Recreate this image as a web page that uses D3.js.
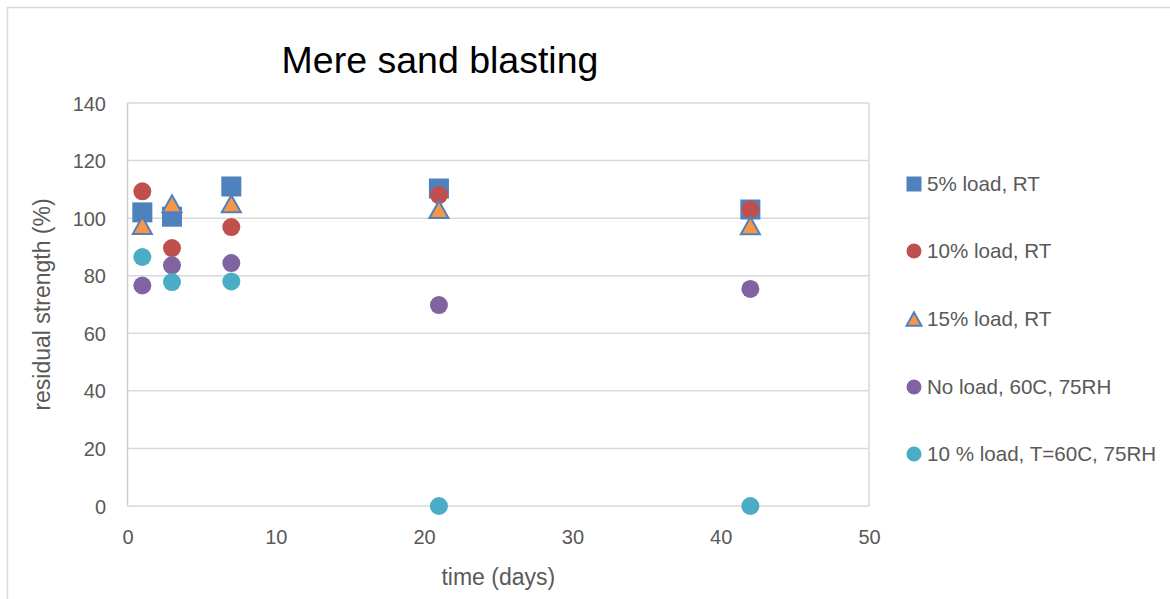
<!DOCTYPE html>
<html>
<head>
<meta charset="utf-8">
<script src="https://cdn.jsdelivr.net/npm/d3@7"></script>
<style>
  html, body { margin: 0; padding: 0; background: #ffffff; }
  svg { display: block; }
  text { font-family: "Liberation Sans", Arial, sans-serif; }
</style>
</head>
<body>
<svg id="chart" width="1170" height="599"></svg>
<script>
// ---- data ----
const days = [1, 3, 7, 21, 42];
const load5RT = [102, 100.5, 111, 110.3, 103];
const load10RT = [109.3, 89.6, 96.9, 108, 103];
const load15RT = [97.5, 105, 105, 103, 97.4];
const noLoad60C = [76.6, 83.6, 84.4, 69.8, 75.4];
const load10T60C = [86.5, 77.8, 78, 0, 0];
const seriesNames = ["5% load, RT", "10% load, RT", "15% load, RT", "No load, 60C, 75RH", "10 % load, T=60C, 75RH"];
const xTicks = [0, 10, 20, 30, 40, 50];
const yTicks = [0, 20, 40, 60, 80, 100, 120, 140];
const chartTitle = "Mere sand blasting";
const xTitle = "time (days)";
const yTitle = "residual strength (%)";

const series = [
  { name: seriesNames[0], values: load5RT, shape: "square", fill: "#4F81BD", stroke: "none" },
  { name: seriesNames[1], values: load10RT, shape: "circle", fill: "#C0504D", stroke: "none" },
  { name: seriesNames[2], values: load15RT, shape: "triangle", fill: "#F79646", stroke: "#4F81BD" },
  { name: seriesNames[3], values: noLoad60C, shape: "circle", fill: "#8064A2", stroke: "none" },
  { name: seriesNames[4], values: load10T60C, shape: "circle", fill: "#4BACC6", stroke: "none" }
];

const svg = d3.select("#chart");

// outer chart border
svg.append("rect").attr("x", 7.5).attr("y", 7.5).attr("width", 1300).attr("height", 800)
  .attr("fill", "none").attr("stroke", "#d9d9d9").attr("stroke-width", 1.5);

const plot = { left: 127.5, right: 869, top: 103, bottom: 506 };
const x = d3.scaleLinear().domain([0, 50]).range([plot.left, plot.right]);
const y = d3.scaleLinear().domain([0, 140]).range([plot.bottom, plot.top]);

// gridlines
svg.append("g").selectAll("line").data(yTicks).join("line")
  .attr("x1", plot.left).attr("x2", plot.right)
  .attr("y1", d => y(d)).attr("y2", d => y(d))
  .attr("stroke", "#d9d9d9").attr("stroke-width", 1.5);
// plot border verticals
svg.append("line").attr("x1", plot.left).attr("x2", plot.left).attr("y1", plot.top).attr("y2", plot.bottom)
  .attr("stroke", "#d0d0d0").attr("stroke-width", 1.5);
svg.append("line").attr("x1", plot.right).attr("x2", plot.right).attr("y1", plot.top).attr("y2", plot.bottom)
  .attr("stroke", "#d9d9d9").attr("stroke-width", 1.5);

// axes
const yAxis = svg.append("g").attr("transform", `translate(${106},0)`)
  .call(d3.axisLeft(y).tickValues(yTicks).tickSize(0).tickPadding(0));
yAxis.select(".domain").remove();
yAxis.selectAll("text").attr("font-size", 20).attr("fill", "#595959")
  .attr("font-family", "Liberation Sans, Arial, sans-serif").attr("dy", "0.35em");

const xAxis = svg.append("g").attr("transform", `translate(0,${526})`)
  .call(d3.axisBottom(x).tickValues(xTicks).tickSize(0).tickPadding(0));
xAxis.select(".domain").remove();
xAxis.selectAll("text").attr("font-size", 20).attr("fill", "#595959")
  .attr("font-family", "Liberation Sans, Arial, sans-serif").attr("dy", "0.9em");

// titles
svg.append("text").attr("x", 440).attr("y", 73).attr("text-anchor", "middle")
  .attr("font-size", 37.5).attr("fill", "#000000").text(chartTitle);
svg.append("text").attr("x", (plot.left + plot.right) / 2).attr("y", 585).attr("text-anchor", "middle")
  .attr("font-size", 23).attr("fill", "#595959").text(xTitle);
svg.append("text").attr("transform", `translate(50,${(plot.top + plot.bottom) / 2}) rotate(-90)`)
  .attr("text-anchor", "middle").attr("font-size", 23).attr("fill", "#595959").text(yTitle);

// marker drawing
function drawMarker(g, shape, size, fill, stroke) {
  if (shape === "square") {
    g.append("rect").attr("x", -size / 2).attr("y", -size / 2).attr("width", size).attr("height", size)
      .attr("fill", fill);
  } else if (shape === "circle") {
    g.append("circle").attr("r", size / 2).attr("fill", fill);
  } else if (shape === "triangle") {
    const w = size, h = size * 0.9;
    g.append("path").attr("d", `M0,${-h / 2}L${w / 2},${h / 2}L${-w / 2},${h / 2}Z`)
      .attr("fill", fill).attr("stroke", stroke).attr("stroke-width", 2).attr("stroke-linejoin", "miter");
  }
}
const markerSize = { square: 20, circle: 18, triangle: 19 };

series.forEach(s => {
  const g = svg.append("g");
  s.values.forEach((v, i) => {
    const m = g.append("g").attr("transform", `translate(${x(days[i])},${y(v)})`);
    drawMarker(m, s.shape, markerSize[s.shape], s.fill, s.stroke);
  });
});

// legend
const legendY = [184, 251, 319, 387, 454];
const legend = svg.append("g");
series.forEach((s, i) => {
  const m = legend.append("g").attr("transform", `translate(914,${legendY[i]})`);
  const ls = { square: 15, circle: 15, triangle: 15 }[s.shape];
  drawMarker(m, s.shape, ls, s.fill, s.stroke);
  legend.append("text").attr("x", 927).attr("y", legendY[i]).attr("dy", "0.35em")
    .attr("font-size", 20.6).attr("fill", "#595959").text(s.name);
});
</script>
</body>
</html>
